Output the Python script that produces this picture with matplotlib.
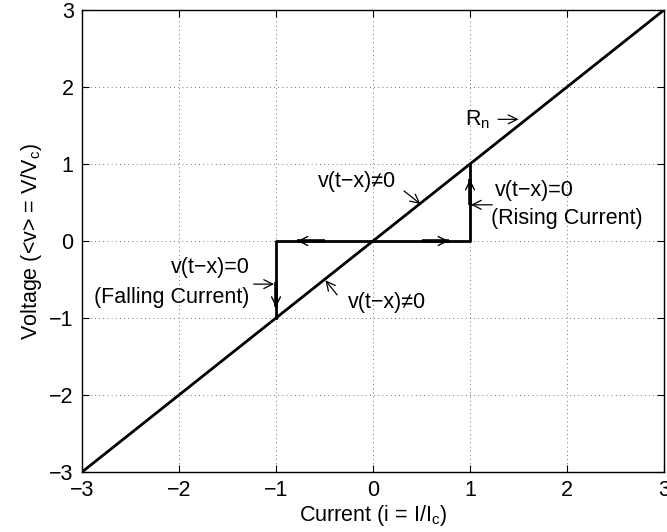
import matplotlib
matplotlib.use("Agg")
import matplotlib.pyplot as plt
import numpy as np

plt.rcParams['font.family'] = ['Liberation Sans', 'DejaVu Sans']
plt.rcParams['mathtext.fontset'] = 'custom'
plt.rcParams['mathtext.rm'] = 'Liberation Sans'
plt.rcParams['mathtext.it'] = 'Liberation Sans:italic'
plt.rcParams['axes.unicode_minus'] = True

# Data
diag_x = [-3, 3]
diag_y = [-3, 3]
loop_x = [-1, -1, 1, 1]
loop_y = [-1, 0, 0, 1]
ticks = [-3, -2, -1, 0, 1, 2, 3]

labels = [
    (r"R$_\mathrm{n}$", (0.95, 1.58), 'left'),
    ("v(t\u2212x)\u22600", (-0.57, 0.77), 'left'),
    ("v(t\u2212x)=0", (1.26, 0.66), 'left'),
    ("(Rising Current)", (1.22, 0.29), 'left'),
    ("v(t\u2212x)=0", (-1.27, -0.34), 'right'),
    ("(Falling Current)", (-1.27, -0.74), 'right'),
    ("v(t\u2212x)\u22600", (-0.26, -0.80), 'left'),
]
thin_arrows = [
    ((1.29, 1.58), (1.50, 1.58)),
    ((0.32, 0.65), (0.49, 0.48)),
    ((1.23, 0.47), (1.01, 0.47)),
    ((-1.23, -0.56), (-1.02, -0.56)),
    ((-0.37, -0.70), (-0.49, -0.51)),
]
thick_arrows = [
    ((1, 0.47), (1, 0.80)),
    ((0.5, 0), (0.78, 0)),
    ((-0.5, 0), (-0.78, 0)),
    ((-1, -0.53), (-1, -0.86)),
]

FS = 15.5

fig = plt.figure(figsize=(6.67, 5.32), dpi=100)
ax = fig.add_axes([82/667, 60/532, (664-82)/667, (472-10)/532])

ax.plot(diag_x, diag_y, color='black', lw=2)
ax.plot(loop_x, loop_y, color='black', lw=2)

for txt, (x, y), ha in labels:
    ax.text(x, y, txt, ha=ha, va='center', fontsize=FS)

for tail, tip in thin_arrows:
    ax.annotate('', xy=tip, xytext=tail,
                arrowprops=dict(arrowstyle='->', lw=0.9, color='black',
                                mutation_scale=16, shrinkA=0, shrinkB=0))
for tail, tip in thick_arrows:
    ax.plot([tail[0], tip[0]], [tail[1], tip[1]], color='black', lw=2.6,
            solid_capstyle='butt')
    ax.annotate('', xy=tip, xytext=tail,
                arrowprops=dict(arrowstyle='->', lw=1.0, color='black',
                                mutation_scale=16, shrinkA=0, shrinkB=0))

ax.set_xlim(-3, 3)
ax.set_ylim(-3, 3)
ax.set_xticks(ticks)
ax.set_yticks(ticks)
ax.tick_params(direction='in', top=True, right=True, labelsize=FS, length=5, pad=6)
ax.grid(True, color='#444444', linestyle=(0, (1, 4)), lw=0.6)
for s in ax.spines.values():
    s.set_linewidth(1.0)

ax.set_xlabel(r"Current (i = I/I$_\mathrm{c}$)", fontsize=FS, labelpad=1)
ax.set_ylabel(r"Voltage (<v> = V/V$_\mathrm{c}$)", fontsize=FS, labelpad=4)

fig.savefig("out.png", dpi=100)
